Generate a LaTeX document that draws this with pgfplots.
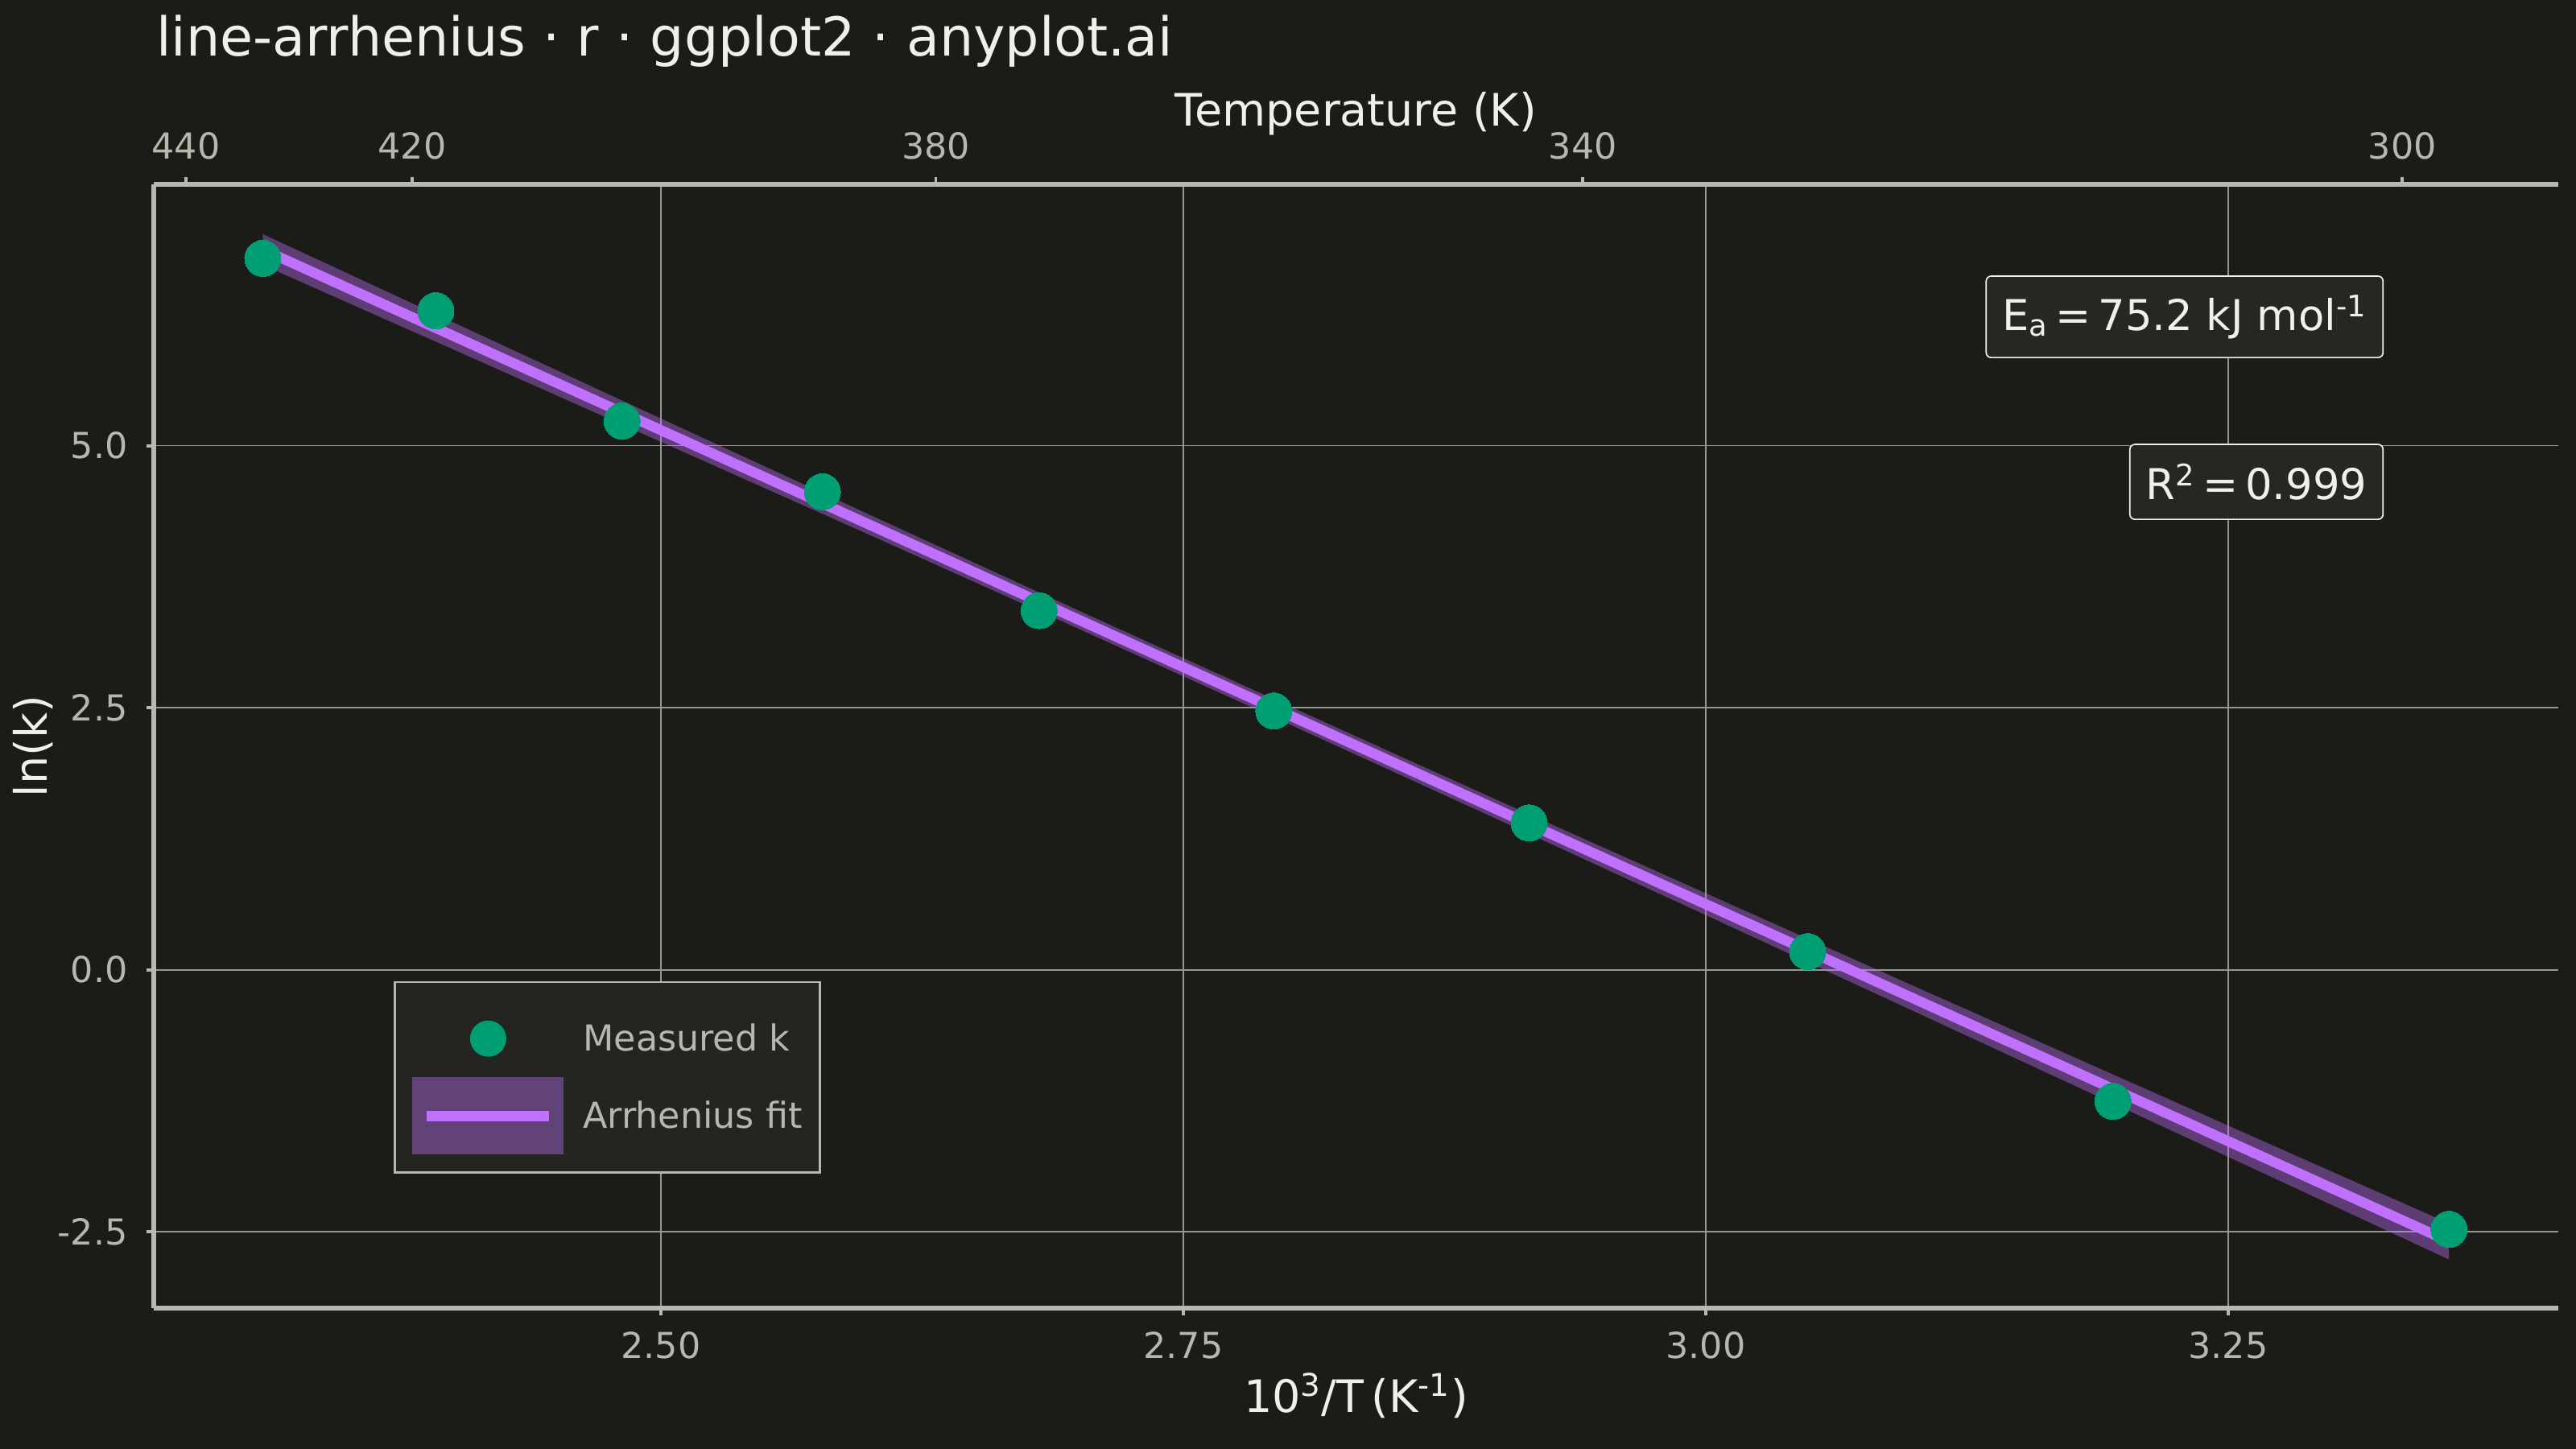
\documentclass[border=0pt]{standalone}
\usepackage{fontspec}
\setmainfont{DejaVu Sans}
\usepackage{pgfplots}
\pgfplotsset{compat=1.18}
\definecolor{bgcol}{RGB}{27,27,23}
\definecolor{legfill}{RGB}{36,37,33}
\definecolor{boxcol}{RGB}{38,39,35}
\definecolor{axcol}{RGB}{184,184,176}
\definecolor{gridcol}{RGB}{150,150,142}
\definecolor{tickcol}{RGB}{184,183,174}
\definecolor{titlecol}{RGB}{240,239,232}
\definecolor{ptcol}{HTML}{009E73}
\definecolor{linecol}{RGB}{192,112,255}

\pgfplotstableread{
x y
2.3095 6.787
2.3923 6.287
2.4814 5.235
2.5773 4.561
2.6810 3.426
2.7933 2.469
2.9155 1.401
3.0488 0.173
3.1949 -1.255
3.3557 -2.476
}\measured

\pgfplotstableread{
x fit
2.3095 6.871
2.4 6.053
2.5 5.148
2.6 4.244
2.7 3.339
2.8 2.435
2.9 1.530
3.0 0.626
3.1 -0.279
3.2 -1.183
3.3 -2.088
3.3557 -2.592
}\fitline

\begin{document}
\begin{tikzpicture}
\path[use as bounding box] (0,0) rectangle (1152pt,648pt);
\fill[bgcol] (0,0) rectangle (1152pt,648pt);
\begin{axis}[
  at={(68.76pt,63pt)}, anchor=south west,
  scale only axis, width=1075.3pt, height=502.6pt,
  xmin=2.2573, xmax=3.4080, ymin=-3.228, ymax=7.494,
  every non boxed x axis/.style={}, every non boxed y axis/.style={},
  axis x line=bottom, axis y line=left,
  axis line style={draw=axcol, line width=1.9pt, -},
  xtick={2.5,2.75,3,3.25}, xticklabels={2.50,2.75,3.00,3.25},
  ytick={-2.5,0,2.5,5}, yticklabels={-2.5,0.0,2.5,5.0},
  tick align=outside, major tick length=3.3pt,
  tick style={draw=axcol, line width=1.4pt},
  grid=major, major grid style={draw=gridcol, line width=0.6pt},
  ticklabel style={font=\fontsize{16}{19}\selectfont, text=tickcol, inner sep=0pt},
  xticklabel shift=7.2pt, yticklabel shift=8.2pt,
  /pgf/number format/assume math mode=true,
  legend style={at={(0.0997,0.1196)}, anchor=south west, fill=legfill, draw=axcol,
    line width=1pt, inner sep=8pt, font=\fontsize{16}{19}\selectfont, text=tickcol,
    row sep=0pt, nodes={inner sep=0pt},
    /tikz/every odd column/.append style={column sep=8.6pt}},
  legend cell align=left, reverse legend,
]
\addplot[draw=none, fill=linecol, fill opacity=0.4, forget plot] coordinates {
(2.3095,7.018) (2.4,6.182) (2.5,5.259) (2.6,4.340) (2.7,3.426) (2.8,2.521)
(2.9,1.621) (3.0,0.730) (3.1,-0.159) (3.2,-1.044) (3.3,-1.929) (3.3557,-2.420)
(3.3557,-2.764) (3.3,-2.247) (3.2,-1.322) (3.1,-0.399) (3.0,0.522) (2.9,1.439)
(2.8,2.349) (2.7,3.252) (2.6,4.148) (2.5,5.037) (2.4,5.924) (2.3095,6.724)
} -- cycle;
\addplot[linecol, line width=4.5pt,
  legend image code/.code={
    \fill[linecol, fill opacity=0.4, draw=none] (0pt,-17.3pt) rectangle (67.7pt,17.3pt);
    \draw[linecol, line width=4.6pt, fill=none] (6.5pt,0pt) -- (61.2pt,0pt);}]
  table[x=x, y=fit] {\fitline};
\addlegendentry{Arrhenius fit}
\addplot[only marks, mark=*, mark size=8.1pt, ptcol, mark options={fill=ptcol, draw=ptcol, line width=0pt},
  legend image code/.code={
    \path[draw=none, fill=none] (0pt,-17.3pt) rectangle (67.7pt,17.3pt);
    \fill[ptcol, draw=none] (33.85pt,0pt) circle (8.1pt);}]
  table[x=x, y=y] {\measured};
\addlegendentry{Measured k}
\end{axis}
\begin{axis}[
  at={(68.76pt,63pt)}, anchor=south west,
  scale only axis, width=1075.3pt, height=502.6pt,
  xmin=2.2573, xmax=3.4080, ymin=0, ymax=1,
  every non boxed x axis/.style={}, every non boxed y axis/.style={},
  axis x line=top, axis y line=none,
  axis line style={draw=axcol, line width=1.9pt, -},
  xtick={2.272727,2.380952,2.631579,2.941176,3.333333},
  xticklabels={440,420,380,340,300},
  ytick=\empty,
  tick align=outside, major tick length=3.3pt,
  tick style={draw=axcol, line width=1.4pt},
  ticklabel style={font=\fontsize{16}{19}\selectfont, text=tickcol, inner sep=0pt},
  xticklabel shift=7.5pt,
]
\addplot[draw=none] coordinates {(2.5,0.5)};
\end{axis}
\node[anchor=base west, inner sep=0pt, text=titlecol, font=\fontsize{24}{29}\selectfont]
  at (69.8pt,622.8pt) {line-arrhenius · r · ggplot2 · anyplot.ai};
\node[anchor=base, inner sep=0pt, text=titlecol, font=\fontsize{20}{24}\selectfont]
  at (606.4pt,591.5pt) {Temperature (K)};
\node[anchor=base, inner sep=0pt, text=titlecol, font=\fontsize{20}{24}\selectfont]
  at (606.4pt,16.2pt) {10\textsuperscript{3}/T\,(K\textsuperscript{-1})};
\node[rotate=90, inner sep=0pt, text=titlecol, font=\fontsize{20}{24}\selectfont]
  at (14.8pt,314.3pt) {ln(k)};
\node[anchor=east, fill=boxcol, draw=titlecol, line width=0.6pt, rounded corners=2.2pt,
  inner xsep=7.2pt, minimum height=36.4pt, text=titlecol, font=\fontsize{19}{23}\selectfont]
  at (1066pt,506.3pt) {E\textsubscript{a}\,=\,75.2 kJ mol\textsuperscript{-1}};
\node[anchor=east, fill=boxcol, draw=titlecol, line width=0.6pt, rounded corners=2.2pt,
  inner xsep=7.2pt, minimum height=33.5pt, text=titlecol, font=\fontsize{19}{23}\selectfont]
  at (1066pt,432.5pt) {R\textsuperscript{2}\,=\,0.999};
\end{tikzpicture}
\end{document}
